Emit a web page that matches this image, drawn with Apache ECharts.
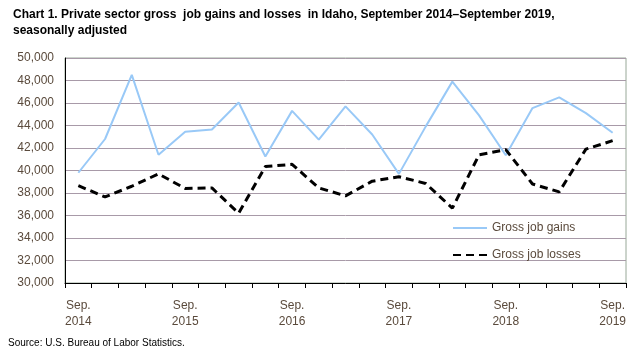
<!DOCTYPE html>
<html>
<head>
<meta charset="utf-8">
<script src="https://cdn.jsdelivr.net/npm/echarts@6/dist/echarts.min.js"></script>
<style>
  html, body { margin: 0; padding: 0; background: #fff; }
  #chart { width: 642px; height: 350px; }
</style>
</head>
<body>
<div id="chart"></div>
<script>
// quarterly, Sep 2014 .. Sep 2019
const quarters = [
  'Sep.\n2014', 'Dec 2014', 'Mar 2015', 'Jun 2015',
  'Sep.\n2015', 'Dec 2015', 'Mar 2016', 'Jun 2016',
  'Sep.\n2016', 'Dec 2016', 'Mar 2017', 'Jun 2017',
  'Sep.\n2017', 'Dec 2017', 'Mar 2018', 'Jun 2018',
  'Sep.\n2018', 'Dec 2018', 'Mar 2019', 'Jun 2019',
  'Sep.\n2019'
];
const gains = [
  39800, 42800, 48500, 41400, 43450, 43650, 46050, 41250, 45300, 42750,
  45700, 43200, 39700, 43900, 47900, 44900, 41350, 45550, 46500, 45100, 43350
];
const losses = [
  38650, 37650, 38600, 39700, 38400, 38450, 36200, 40350, 40550, 38450,
  37750, 39050, 39450, 38850, 36650, 41400, 41850, 38800, 38100, 41900, 42650
];
const yTicks = { min: 30000, max: 50000, step: 2000 };

const fontFam = '"Liberation Sans", Arial, sans-serif';
const labelColor = '#5a4a3c';

const chart = echarts.init(document.getElementById('chart'));
chart.setOption({
  animation: false,
  title: {
    text: 'Chart 1. Private sector gross  job gains and losses  in Idaho, September 2014\u2013September 2019,\nseasonally adjusted',
    left: 8,
    top: 2,
    textStyle: { fontFamily: fontFam, fontSize: 12, fontWeight: 'bold', color: '#000', lineHeight: 16 }
  },
  grid: {
    left: 65, right: 16, top: 58, bottom: 67,
    show: true, borderColor: '#98a898', borderWidth: 1
  },
  legend: {
    orient: 'vertical',
    left: 447,
    top: 217,
    itemWidth: 34,
    itemHeight: 10,
    itemGap: 15,
    itemStyle: { opacity: 0 },
    data: ['Gross job gains', 'Gross job losses'],
    textStyle: { fontFamily: fontFam, fontSize: 12, color: labelColor, padding: [0, 0, 0, 0] }
  },
  xAxis: {
    type: 'category',
    data: quarters,
    boundaryGap: true,
    axisLine: { lineStyle: { color: '#000', width: 1 } },
    axisTick: { show: true, interval: 0, length: 5, lineStyle: { color: '#000' } },
    axisLabel: {
      interval: 3,
      margin: 15,
      fontFamily: fontFam,
      fontSize: 12,
      lineHeight: 16,
      color: labelColor
    },
    splitLine: { show: false }
  },
  yAxis: {
    type: 'value',
    min: yTicks.min,
    max: yTicks.max,
    interval: yTicks.step,
    axisLine: { show: true, lineStyle: { color: '#000', width: 1 } },
    axisTick: { show: false },
    axisLabel: {
      margin: 11,
      fontFamily: fontFam,
      fontSize: 12,
      color: labelColor,
      formatter: v => v.toLocaleString('en-US')
    },
    splitLine: { lineStyle: { color: '#a89aa8', width: 1 } }
  },
  series: [
    {
      name: 'Gross job gains',
      type: 'line',
      data: gains,
      symbol: 'none',
      lineStyle: { color: '#99c9f7', width: 2 },
      itemStyle: { color: '#99c9f7' }
    },
    {
      name: 'Gross job losses',
      type: 'line',
      data: losses,
      symbol: 'none',
      lineStyle: { color: '#000', width: 3, type: [8, 5] },
      itemStyle: { color: '#000' }
    }
  ],
  graphic: [{
    type: 'text',
    left: 8,
    top: 338,
    style: { text: 'Source: U.S. Bureau of Labor Statistics.', fontFamily: fontFam, fontSize: 10, fill: '#000' }
  }]
});
</script>
</body>
</html>
